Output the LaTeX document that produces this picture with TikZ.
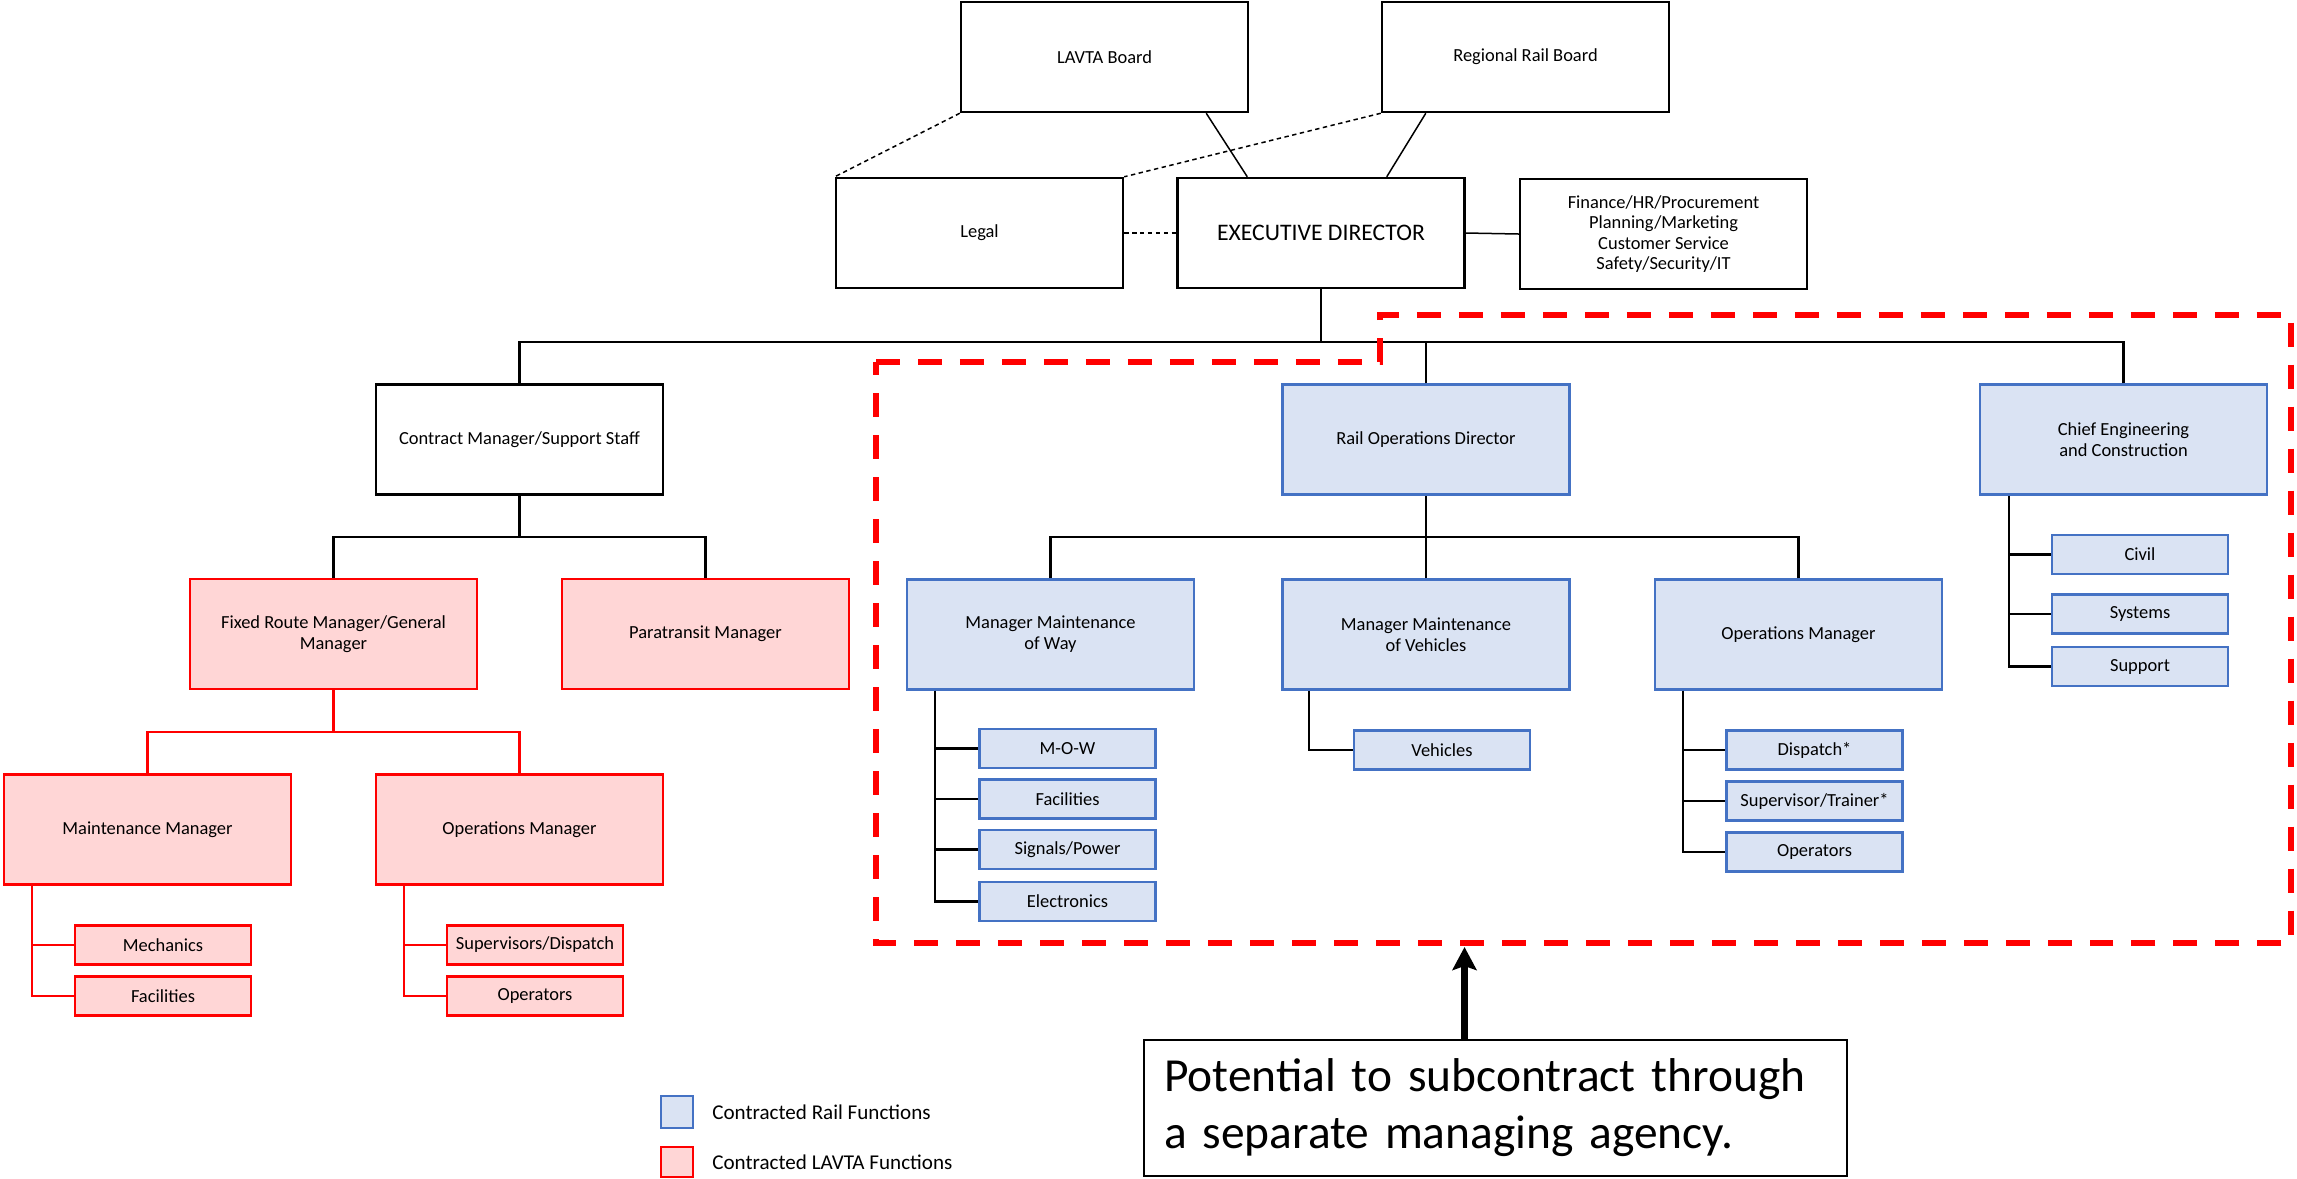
\documentclass[tikz,border=0pt]{standalone}
\usepackage{fontspec}
\setmainfont{Carlito}
\usepackage{tikz}
\usetikzlibrary{arrows.meta}

\definecolor{railfill}{HTML}{DAE3F3}
\definecolor{railline}{HTML}{4472C4}
\definecolor{lavtafill}{HTML}{FFD6D6}

\begin{document}
\begin{tikzpicture}[x=0.02cm,y=-0.02cm,
	box/.style={draw,line width=0.05cm,minimum width=5.74cm,minimum height=2.2cm,align=center,inner sep=0pt,font=\fontsize{10.5}{12}\selectfont},
	railbox/.style={box,draw=railline,fill=railfill},
	lavtabox/.style={box,draw=red,fill=lavtafill},
	subbox/.style={minimum width=3.52cm,minimum height=0.78cm},
	link/.style={line width=0.045cm},
	thinlink/.style={line width=0.03cm},
	dotlink/.style={line width=0.03cm,dash pattern=on 2.5pt off 2pt}]
	\useasboundingbox (0,0) rectangle (2297,1178);

% boards and director
		\node[box] (lavtaboard) at (1104.5,57) {LAVTA Board};
		\node[box] (railboard) at (1525.5,57) {Regional Rail Board};
		\node[box] (legal) at (979.5,233) {Legal};
		\node[box,font=\fontsize{13.5}{16}\selectfont] (exec) at (1321,233) {EXECUTIVE DIRECTOR};
		\node[box,font=\fontsize{10.5}{11.7}\selectfont] (staff) at (1663.5,234) {Finance/HR/Procurement\\Planning/Marketing\\Customer Service\\Safety/Security/IT};

\draw [dotlink](lavtaboard.south west) -- (legal.north west);
\draw [dotlink](railboard.south west) -- (legal.north east);
\draw [dotlink](legal.east) -- (exec.west);
\draw [thinlink]([xshift=-0.86cm]lavtaboard.south east) -- ([xshift=1.42cm]exec.north west);
\draw [thinlink]([xshift=0.9cm]railboard.south west) -- ([xshift=-1.58cm]exec.north east);
\draw [thinlink](exec.east) -- (staff.west);

% second level
		\node[box] (contract) at (519.5,439.5) {Contract Manager/Support Staff};
		\node[railbox] (railops) at (1426,439.5) {Rail Operations Director};
		\node[railbox] (chief) at (2123.5,439.5) {Chief Engineering\\and Construction};

\coordinate (topbus) at (1321,342);
\draw [link](exec.south) -- (topbus);
\draw [link](contract.north) |- (topbus);
\draw [link](railops.north) |- (topbus);
\draw [link](chief.north) |- (topbus);

% LAVTA side
		\node[lavtabox] (fixed) at (333.5,634) {Fixed Route Manager/General\\Manager};
		\node[lavtabox] (para) at (705.5,634) {Paratransit Manager};
		\node[lavtabox] (maint) at (147.5,829.5) {Maintenance Manager};
		\node[lavtabox] (opsred) at (519.5,829.5) {Operations Manager};
		\node[lavtabox,subbox] (mech) at (163,945) {Mechanics};
		\node[lavtabox,subbox] (facred) at (163,996) {Facilities};
		\node[lavtabox,subbox] (supdisp) at (535,945) {Supervisors/Dispatch};
		\node[lavtabox,subbox] (opers) at (535,996) {Operators};

\coordinate (cbus) at (519.5,537);
\draw [link](contract.south) -- (cbus);
\draw [link](fixed.north) |- (cbus);
\draw [link](para.north) |- (cbus);

\coordinate (fbus) at (333.5,732);
\draw [link,red](fixed.south) -- (fbus);
\draw [link,red](maint.north) |- (fbus);
\draw [link,red](opsred.north) |- (fbus);

\draw [link,red]([xshift=0.58cm]maint.south west) |- (mech.west);
\draw [link,red]([xshift=0.58cm]maint.south west) |- (facred.west);
\draw [link,red]([xshift=0.58cm]opsred.south west) |- (supdisp.west);
\draw [link,red]([xshift=0.58cm]opsred.south west) |- (opers.west);

% rail side
		\node[railbox] (mmow) at (1050.5,634.5) {Manager Maintenance\\of Way};
		\node[railbox] (mmov) at (1426,634.5) {Manager Maintenance\\of Vehicles};
		\node[railbox] (opsmgr) at (1798.5,634.5) {Operations Manager};

		\node[railbox,subbox] (mow) at (1067.5,748.5) {M-O-W};
		\node[railbox,subbox] (facrail) at (1067.5,799) {Facilities};
		\node[railbox,subbox] (signals) at (1067.5,849.5) {Signals/Power};
		\node[railbox,subbox] (electronics) at (1067.5,901.5) {Electronics};
		\node[railbox,subbox] (vehicles) at (1442,750) {Vehicles};
		\node[railbox,subbox] (dispatch) at (1814.5,750) {Dispatch*};
		\node[railbox,subbox] (trainer) at (1814.5,801) {Supervisor/Trainer*};
		\node[railbox,subbox] (operators) at (1814.5,852) {Operators};
		\node[railbox,subbox] (civil) at (2140,554.5) {Civil};
		\node[railbox,subbox] (systems) at (2140,614) {Systems};
		\node[railbox,subbox] (support) at (2140,666.5) {Support};

\coordinate (rbus) at (1426,537);
\draw [link](railops.south) -- (rbus);
\draw [link](mmow.north) |- (rbus);
\draw [link](mmov.north) -- (rbus);
\draw [link](opsmgr.north) |- (rbus);

\draw [link]([xshift=0.58cm]mmow.south west) |- (mow.west);
\draw [link]([xshift=0.58cm]mmow.south west) |- (facrail.west);
\draw [link]([xshift=0.58cm]mmow.south west) |- (signals.west);
\draw [link]([xshift=0.58cm]mmow.south west) |- (electronics.west);
\draw [link]([xshift=0.56cm]mmov.south west) |- (vehicles.west);
\draw [link]([xshift=0.58cm]opsmgr.south west) |- (dispatch.west);
\draw [link]([xshift=0.58cm]opsmgr.south west) |- (trainer.west);
\draw [link]([xshift=0.58cm]opsmgr.south west) |- (operators.west);
\draw [link]([xshift=0.6cm]chief.south west) |- (civil.west);
\draw [link]([xshift=0.6cm]chief.south west) |- (systems.west);
\draw [link]([xshift=0.6cm]chief.south west) |- (support.west);

% contracted rail area
\draw [red,line width=0.12cm,dash pattern=on 0.48cm off 0.36cm](876,362) -- (1380,362) -- (1380,315) -- (2291,315) -- (2291,943) -- (876,943) -- cycle;

% note and legend
		\node[draw,line width=0.05cm,minimum width=14.06cm,minimum height=2.72cm,text width=13.26cm,align=left,inner sep=0pt,font=\fontsize{27}{32.5}\selectfont] (note) at (1495.5,1108) {Potential to subcontract through\\a separate managing agency.};
\coordinate (tip) at (1464.5,947);
\draw [line width=0.154cm,-{Stealth[length=0.46cm,width=0.48cm,inset=0.08cm]}](note.north -| tip) -- (tip);

		\node[railbox,minimum width=0.64cm,minimum height=0.64cm] (railkey) at (677,1112) {};
		\node[anchor=west,inner sep=0pt,font=\fontsize{12}{14}\selectfont] (railkeytext) at (712,1112) {Contracted Rail Functions};
		\node[lavtabox,minimum width=0.64cm,minimum height=0.6cm] (lavtakey) at (677,1162) {};
		\node[anchor=west,inner sep=0pt,font=\fontsize{12}{14}\selectfont] (lavtakeytext) at (712,1162) {Contracted LAVTA Functions};
		\end{tikzpicture}
\end{document}
